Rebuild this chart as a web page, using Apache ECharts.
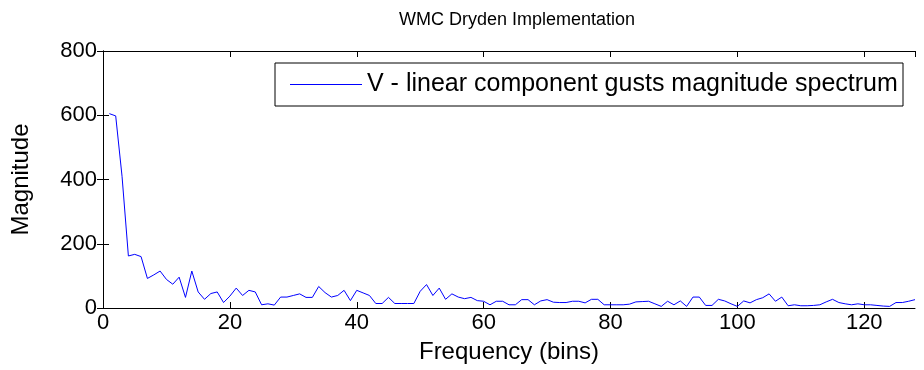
<!DOCTYPE html>
<html>
<head>
<meta charset="utf-8">
<script src="https://cdn.jsdelivr.net/npm/echarts@6/dist/echarts.min.js"></script>
<style>
html,body{margin:0;padding:0;background:#fff;}
#c{width:924px;height:370px;}
</style>
</head>
<body>
<div id="c"></div>
<script>
const titleText = 'WMC Dryden Implementation';
const seriesName = 'V - linear component gusts magnitude spectrum';
const xName = 'Frequency (bins)';
const yName = 'Magnitude';
const bins = [];
for (let b = 1; b <= 128; b++) bins.push(b);
const magnitude = [
  605, 598, 410, 162, 167, 160, 92, 103, 115, 89,
  74, 96, 33, 115, 50, 27, 45, 50, 17, 37,
  62, 39, 55, 50, 10, 13, 9, 34, 34, 39,
  44, 33, 33, 67, 48, 34, 39, 55, 23, 55,
  47, 39, 14, 14, 33, 14, 14, 14, 14, 52,
  73, 39, 62, 27, 44, 34, 29, 33, 23, 21,
  10, 21, 21, 10, 10, 26, 26, 10, 22, 26,
  18, 17, 17, 21, 21, 16, 27, 27, 10, 10,
  10, 10, 12, 19, 20, 21, 13, 5, 21, 10,
  22, 5, 34, 34, 8, 8, 27, 22, 13, 5,
  22, 16, 26, 32, 44, 21, 34, 7, 10, 7,
  7, 8, 10, 19, 27, 17, 13, 10, 13, 10,
  10, 8, 6, 5, 17, 17, 21, 26
];
const xTicks = [0, 20, 40, 60, 80, 100, 120];
const yTicks = [0, 200, 400, 600, 800];

const FONT = 'Liberation Sans, Arial, sans-serif';
const LEG_FONT = 25;
// size the legend box to span from x=275 to x=903
const meas = document.createElement('canvas').getContext('2d');
meas.font = LEG_FONT + 'px Liberation Sans';
const legTextW = meas.measureText(seriesName).width;
const legPadL = 15, legIcon = 72, legGap = 5;
const legPadR = Math.max(4, 628 - legPadL - legIcon - legGap - legTextW);

const chart = echarts.init(document.getElementById('c'), null, {renderer: 'canvas'});
const tickStyle = {show: true, inside: true, length: 6, lineStyle: {color: '#000', width: 1}};
const option = {
  backgroundColor: '#fff',
  animation: false,
  title: {
    text: titleText, left: 512, top: 6, textAlign: 'center',
    textStyle: {fontFamily: FONT, fontSize: 18, fontWeight: 'normal', color: '#000'}
  },
  legend: {
    left: 275, top: 63,
    data: [seriesName],
    itemWidth: legIcon, itemHeight: 14, itemGap: 0,
    padding: [8, legPadR, 8, legPadL],
    borderColor: '#000', borderWidth: 1,
    backgroundColor: '#fff',
    icon: 'path://M0,0 L72,0 L72,1 L0,1 Z',
    textStyle: {fontFamily: FONT, fontSize: LEG_FONT, color: '#000', padding: [0, 0, 0, 0], lineHeight: 27}
  },
  grid: {left: 103, right: 9, top: 51, bottom: 62, containLabel: false, show: false},
  xAxis: [{
    type: 'value', min: 0, max: 128, interval: 20,
    name: xName, nameLocation: 'middle', nameGap: 32,
    nameTextStyle: {fontFamily: FONT, fontSize: 24, color: '#000'},
    axisLine: {show: true, onZero: false, lineStyle: {color: '#000', width: 1}},
    axisTick: tickStyle,
    axisLabel: {fontFamily: FONT, fontSize: 22, color: '#000', margin: 4, showMaxLabel: false,
      formatter: v => xTicks.indexOf(v) >= 0 ? String(v) : ''},
    splitLine: {show: false}
  }, {
    type: 'value', min: 0, max: 128, interval: 20, position: 'top',
    axisLine: {show: true, onZero: false, lineStyle: {color: '#000', width: 1}},
    axisTick: tickStyle, axisLabel: {show: false}, splitLine: {show: false}
  }],
  yAxis: [{
    type: 'value', min: 0, max: 800, interval: 200,
    name: yName, nameLocation: 'middle', nameGap: 70, nameRotate: 90,
    nameTextStyle: {fontFamily: FONT, fontSize: 24, color: '#000'},
    axisLine: {show: true, lineStyle: {color: '#000', width: 1}},
    axisTick: tickStyle,
    axisLabel: {fontFamily: FONT, fontSize: 22, color: '#000', margin: 6,
      formatter: v => yTicks.indexOf(v) >= 0 ? String(v) : ''},
    splitLine: {show: false}
  }, {
    type: 'value', min: 0, max: 800, interval: 200, position: 'right',
    axisLine: {show: true, lineStyle: {color: '#000', width: 1}},
    axisTick: tickStyle, axisLabel: {show: false}, splitLine: {show: false}
  }],
  series: [{
    name: seriesName, type: 'line',
    data: bins.map((b, i) => [b, magnitude[i]]),
    showSymbol: false, symbol: 'none',
    lineStyle: {color: '#0000ff', width: 1},
    itemStyle: {color: '#0000ff'},
    emphasis: {disabled: true}
  }]
};
chart.setOption(option);
</script>
</body>
</html>
